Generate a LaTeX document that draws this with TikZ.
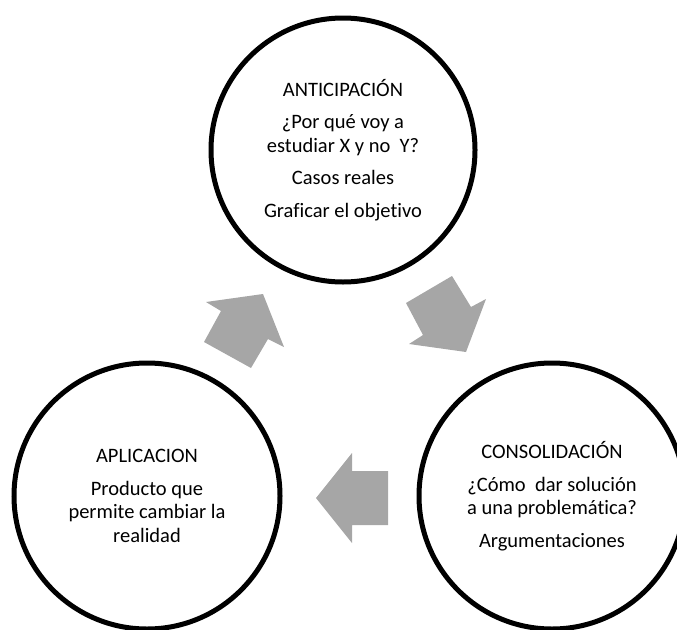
\documentclass[tikz,border=0pt]{standalone}
\usepackage{fontspec}
\setmainfont[Ligatures=NoCommon]{Carlito}
\begin{document}
\begin{tikzpicture}[x=1pt,y=-1pt,
  stage/.style={circle,draw=black,line width=5pt,fill=white,inner sep=0pt,
    align=center,font=\fontsize{20.5}{23.5}\selectfont},
  blockarrow/.style={fill=black!35,draw=none}]
\useasboundingbox (0,0) rectangle (677,629);
\begin{scope}
\clip (0,0) rectangle (677,629);
\node[stage,minimum size=264pt] (anti) at (343,150)
  {ANTICIPACIÓN\\[9pt]¿Por qué voy a\\estudiar X y no~ Y?\\[9pt]Casos reales\\[9pt]Graficar el objetivo};
\node[stage,minimum size=266pt] (apli) at (147,496)
  {APLICACION\\[9pt]Producto que\\permite cambiar la\\realidad};
\node[stage,minimum size=266pt] (cons) at (552,496)
  {CONSOLIDACIÓN\\[9pt]¿Cómo~ dar solución\\a una problemática?\\[9pt]Argumentaciones};
\end{scope}
% arrow from APLICACION towards ANTICIPACION
\fill[blockarrow] (263,294) -- (284,347) -- (268,339) -- (251,368) -- (204,342) -- (221,311) -- (206,302) -- cycle;
% arrow from ANTICIPACION towards CONSOLIDACION
\fill[blockarrow] (452,276) -- (406,303) -- (423,335) -- (409,344) -- (466,352) -- (486,299) -- (471,307) -- cycle;
% arrow from CONSOLIDACION towards APLICACION
\fill[blockarrow] (316,498) -- (352,453) -- (352,471) -- (388,471) -- (388,525) -- (352,525) -- (352,543) -- cycle;
\end{tikzpicture}
\end{document}
